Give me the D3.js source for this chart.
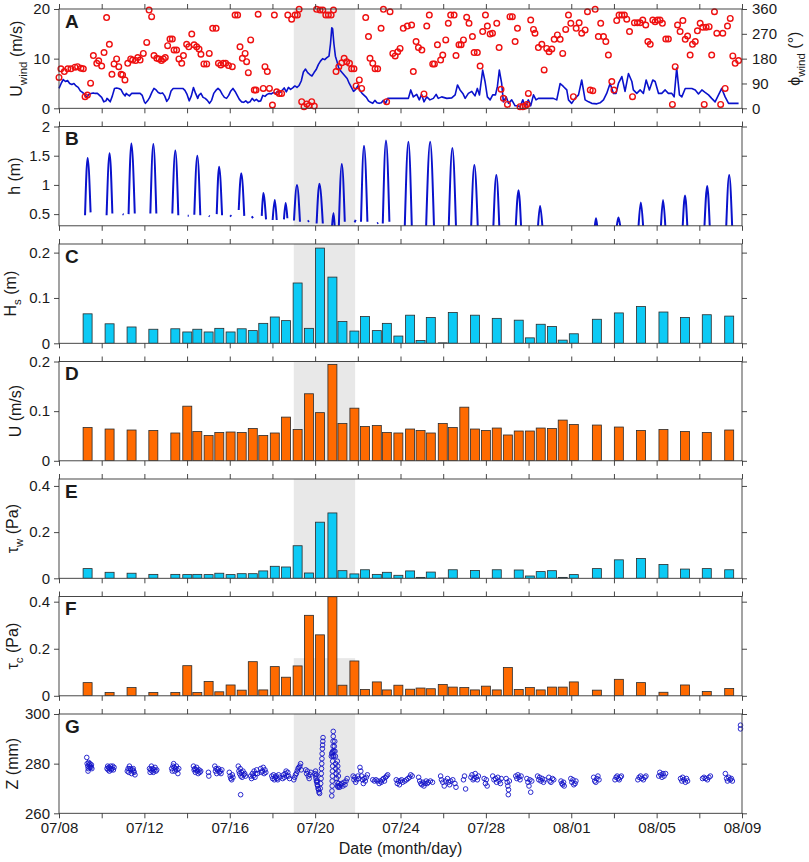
<!DOCTYPE html>
<html>
<head>
<meta charset="utf-8">
<script src="https://cdn.jsdelivr.net/npm/d3@7"></script>
<style>
  body { margin: 0; background: #fff; }
  svg text { font-family: "Liberation Sans", Arial, Helvetica, sans-serif; fill: #1a1a1a; }
</style>
</head>
<body>
<div id="chart"></div>
<script>
// ---------- data (days counted from 07/08 00:00) ----------
var xTickLabels = ["07/08", "07/12", "07/16", "07/20", "07/24", "07/28", "08/01", "08/05", "08/09"]
var stormWindow = [11, 13.875]

// A: wind speed (m/s)
var windSpeed = [
  [0,4],[0.1,5],[0.2,5.8],[0.3,5.4],[0.4,5.6],[0.5,5],[0.6,4.8],[0.7,5],[0.8,4.5],[0.9,4.2],[1.0,3.5],[1.1,3.2],
  [1.2,2.8],[1.25,2.5],[1.3,2.3],[1.4,2.8],[1.5,3],[1.6,3.1],[1.7,3],[1.8,3],[1.9,2.6],[2.0,2.2],[2.1,1.3],[2.2,1.5],
  [2.25,2],[2.3,1.8],[2.4,1.3],[2.5,2.5],[2.6,4],[2.7,4.1],[2.8,4],[2.9,3.8],[3.0,3],[3.1,2.5],[3.15,3],[3.2,2.8],
  [3.3,2.5],[3.4,3],[3.5,3],[3.6,3],[3.7,3],[3.8,3],[3.9,2.6],[4.0,1.3],[4.05,1],[4.15,1.5],[4.25,2.2],[4.35,3.2],
  [4.45,4],[4.55,3.7],[4.65,3.2],[4.75,3],[4.85,3.1],[4.95,2.5],[5.05,1.4],[5.15,2],[5.25,3.5],[5.35,4],[5.5,4],
  [5.6,4],[5.7,4],[5.8,4],[5.9,3.6],[6.0,2.8],[6.1,1.5],[6.2,2.5],[6.3,4.2],[6.4,3],[6.5,2],[6.55,2.6],[6.65,3],
  [6.75,2.2],[6.85,2],[6.95,1.6],[7.05,1],[7.15,1.6],[7.25,3],[7.35,3.6],[7.45,4],[7.55,3.6],[7.65,2.8],[7.75,2.2],
  [7.85,2],[7.95,2.6],[8.05,3.5],[8.15,4],[8.25,3.4],[8.35,2.6],[8.45,1.8],[8.55,1.3],[8.65,1.2],[8.75,1.5],[8.85,1.1],
  [8.95,1.3],[9.05,2],[9.15,1.5],[9.25,1.8],[9.35,1.4],[9.45,1.5],[9.55,2.6],[9.65,2.4],[9.75,2.8],[9.85,3],[9.95,2.9],
  [10.05,3.2],[10.15,3],[10.25,3.4],[10.35,3.2],[10.45,3.6],[10.55,4.1],[10.65,3.3],[10.75,4.2],[10.85,3.8],[10.95,4.1],
  [11.05,4.5],[11.15,4.2],[11.25,4.6],[11.35,5.5],[11.45,7.3],[11.55,7.9],[11.65,7.2],[11.75,6.8],[11.85,6.5],[11.95,7.2],
  [12.05,7.8],[12.15,8.8],[12.25,9.5],[12.35,10],[12.45,9.8],[12.55,10.2],[12.65,10.5],[12.72,13],[12.78,16.2],[12.82,16],
  [12.88,13],[12.95,10.5],[13.02,9.5],[13.1,8.2],[13.2,7.5],[13.3,7],[13.4,6.5],[13.5,6],[13.6,5],[13.7,4.2],[13.8,3.4],
  [13.9,3.8],[14.0,4.5],[14.1,3.6],[14.2,3],[14.3,2.6],[14.4,2.2],[14.5,1.5],[14.6,1.2],[14.7,1],[14.8,1.6],[14.9,1.1],
  [15.0,1],[15.1,1.1],[15.2,1.6],[15.3,1],[15.4,2],[15.5,2],[15.7,2],[15.9,2],[16.1,2],[16.37,2.0],[16.48,3.7],
  [16.60,2.3],[16.76,2.8],[16.88,1.7],[16.99,2.8],[17.10,1.3],[17.23,2.3],[17.38,1.7],[17.54,2.0],[17.67,2.8],[17.77,2.0],
  [17.93,2.3],[18.17,2.0],[18.40,2.1],[18.56,2.7],[18.67,4.7],[18.79,3.7],[18.92,3.0],[19.03,2.0],[19.18,3.0],[19.34,3.4],
  [19.49,2.5],[19.60,4.0],[19.70,2.7],[19.85,7.7],[19.96,5.4],[20.07,2.3],[20.20,1.7],[20.32,2.7],[20.45,2.7],[20.54,4.4],
  [20.63,7.7],[20.74,5.0],[20.82,1.3],[20.95,2.3],[21.06,1.0],[21.21,1.7],[21.37,0.5],[21.48,0.5],[21.60,0.3],[21.73,1.7],
  [21.84,0.3],[21.99,1.7],[22.10,0.5],[22.23,2.7],[22.35,1.7],[22.46,2.0],[22.85,2.0],[23.16,2.0],[23.32,1.7],[23.48,5.0],
  [23.63,4.4],[23.79,3.7],[23.87,1.7],[24.02,1.0],[24.18,2.0],[24.34,2.7],[24.49,5.7],[24.65,1.7],[24.81,1.3],[24.96,1.0],
  [25.20,0.9],[25.35,1.1],[25.51,1.7],[25.66,3.0],[25.82,5.0],[25.98,3.0],[26.10,3.0],[26.21,5.0],[26.37,6.4],[26.52,3.4],
  [26.68,7.0],[26.84,5.4],[26.91,3.7],[27.07,3.0],[27.23,3.7],[27.38,3.0],[27.51,5.7],[27.66,3.7],[27.82,5.7],[27.93,5.4],
  [28.09,3.0],[28.24,3.0],[28.40,3.7],[28.55,3.0],[28.71,3.0],[28.82,2.3],[28.94,8.1],[29.07,2.7],[29.18,2.3],[29.34,4.0],
  [29.49,4.0],[29.65,4.0],[29.81,3.7],[29.96,2.9],[30.12,3.7],[30.27,3.2],[30.43,2.7],[30.58,2.0],[30.74,1.3],[30.90,2.7],
  [31.05,4.0],[31.21,2.3],[31.37,1.0],[31.60,1.0],[31.84,1.0]
]

// A: wind direction (degrees)
var windDir = [
  [0.0,112],[0.09,143],[0.25,133],[0.41,143],[0.56,143],[0.75,149],[0.87,151],[1.03,145],[1.14,143],[1.22,42],[1.33,48],
  [1.48,91],[1.61,191],[1.77,163],[1.86,172],[2.00,153],[2.11,202],[2.23,329],[2.36,232],[2.48,123],[2.58,161],[2.70,179],
  [2.80,151],[2.91,123],[2.98,121],[3.09,103],[3.22,163],[3.36,179],[3.45,175],[3.59,173],[3.69,184],[3.80,175],[3.95,199],
  [4.11,239],[4.22,356],[4.34,332],[4.45,191],[4.58,181],[4.69,179],[4.80,173],[4.89,179],[4.98,184],[5.09,227],[5.20,251],
  [5.31,251],[5.39,211],[5.51,211],[5.62,179],[5.75,163],[5.83,191],[5.98,232],[6.08,223],[6.22,269],[6.33,230],[6.45,223],
  [6.56,215],[6.65,196],[6.79,161],[6.92,161],[7.04,199],[7.20,290],[7.36,290],[7.47,163],[7.58,157],[7.70,163],[7.81,163],
  [7.94,155],[8.12,151],[8.25,338],[8.37,338],[8.48,223],[8.59,181],[8.72,199],[8.79,169],[8.87,129],[8.98,248],[9.15,66],
  [9.23,66],[9.33,341],[9.57,72],[9.65,151],[9.76,133],[9.86,72],[10.00,12],[10.09,338],[10.20,60],[10.32,54],[10.43,54],
  [10.72,338],[10.90,323],[11.06,338],[11.17,338],[11.25,359],[11.37,24],[11.48,6],[11.61,16],[11.72,10],[11.84,24],
  [11.96,8],[12.07,359],[12.23,356],[12.36,356],[12.50,338],[12.62,338],[12.75,338],[12.86,356],[12.98,133],[13.11,151],
  [13.25,165],[13.36,181],[13.48,169],[13.61,163],[13.71,143],[13.82,143],[13.92,81],[14.07,103],[14.18,72],[14.37,329],
  [14.50,260],[14.57,181],[14.70,163],[14.81,143],[14.93,143],[15.09,290],[15.20,359],[15.35,24],[15.51,350],[15.64,199],
  [15.75,190],[15.87,205],[15.98,217],[16.13,290],[16.32,298],[16.52,302],[16.60,133],[16.73,242],[16.84,220],[17.0,211],
  [17.10,52],[17.23,298],[17.35,338],[17.51,161],[17.59,161],[17.73,230],[17.88,175],[17.98,193],[18.12,248],[18.24,308],
  [18.35,338],[18.51,338],[18.60,191],[18.74,230],[18.84,230],[18.95,248],[19.10,330],[19.21,308],[19.37,260],[19.45,202],
  [19.60,202],[19.73,153],[19.85,278],[19.98,338],[20.07,298],[20.20,269],[20.31,272],[20.51,308],[20.62,220],[20.71,69],
  [20.82,36],[21.01,14],[21.13,332],[21.24,332],[21.37,242],[21.48,290],[21.60,6],[21.73,6],[21.84,8],[21.92,14],[21.99,54],
  [22.10,320],[22.23,286],[22.30,272],[22.46,220],[22.62,232],[22.73,139],[22.85,217],[22.96,205],[23.09,215],[23.20,250],
  [23.35,266],[23.48,250],[23.60,199],[23.74,286],[23.87,338],[23.98,308],[24.10,42],[24.23,290],[24.37,310],[24.49,272],
  [24.65,284],[24.76,350],[24.89,66],[25.01,64],[25.12,359],[25.27,260],[25.38,308],[25.51,260],[25.62,242],[25.74,193],
  [25.90,97],[26.0,66],[26.13,318],[26.24,338],[26.37,338],[26.49,338],[26.60,323],[26.73,278],[26.87,42],[26.96,310],
  [27.10,310],[27.23,310],[27.35,320],[27.49,302],[27.59,242],[27.70,232],[27.82,320],[27.93,314],[28.04,320],[28.16,320],
  [28.27,308],[28.43,251],[28.55,251],[28.74,14],[28.87,151],[28.98,302],[29.10,278],[29.23,318],[29.34,250],[29.45,262],
  [29.57,193],[29.68,232],[29.81,242],[29.91,281],[30.04,308],[30.16,294],[30.23,14],[30.32,294],[30.46,296],[30.58,193],
  [30.71,350],[30.82,272],[31.0,14],[31.1,272],[31.21,72],[31.32,298],[31.45,326],[31.57,190],[31.68,163],[31.84,173]
]

// B: water depth h (m), one arch per flood tide: [tStart, hStart, tPeak, hPeak, tEnd, hEnd]
var tideArches = [
  [1.22,0.48,1.34,1.46,1.48,0.53],[2.23,0.48,2.37,1.54,2.50,0.51],[3.26,0.50,3.39,1.71,3.55,0.51],
  [4.28,0.51,4.42,1.70,4.56,0.51],[5.31,0.51,5.45,1.59,5.59,0.48],[6.34,0.49,6.48,1.50,6.62,0.48],
  [7.39,0.50,7.50,1.31,7.64,0.48],[8.42,0.57,8.54,1.20,8.68,0.47],[9.50,0.47,9.57,0.86,9.70,0.41],
  [10.01,0.40,10.11,0.74,10.20,0.40],[10.54,0.41,10.62,0.69,10.70,0.43],[11.01,0.39,11.15,1.00,11.29,0.37],
  [12.07,0.34,12.20,1.02,12.36,0.34],[12.79,0.28,12.86,0.52,12.92,0.28],[13.11,0.28,13.25,1.36,13.39,0.37],
  [14.15,0.37,14.29,1.67,14.45,0.37],[15.17,0.34,15.32,1.76,15.48,0.37],[16.20,0.28,16.37,1.74,16.53,0.28],
  [17.20,0.28,17.39,1.74,17.57,0.28],[18.26,0.28,18.43,1.63,18.60,0.28],[19.31,0.28,19.46,1.34,19.62,0.28],
  [20.35,0.28,20.49,1.17,20.63,0.28],[21.40,0.28,21.53,0.91,21.65,0.28],[22.44,0.28,22.54,0.64,22.65,0.28],
  [25.10,0.28,25.16,0.43,25.22,0.28],[26.13,0.28,26.21,0.44,26.30,0.28],[27.15,0.28,27.26,0.70,27.37,0.28],
  [28.20,0.28,28.30,0.74,28.41,0.28],[29.22,0.28,29.33,0.82,29.44,0.28],[30.24,0.28,30.37,0.98,30.49,0.28],
  [31.26,0.28,31.40,1.17,31.54,0.28]
]
// B: short pieces of shallow water between floods [tStart, hStart, tEnd, hEnd]
var tideDashes = [
  [2.98,0.50,3.03,0.49],[6.03,0.47,6.08,0.47],[7.02,0.47,7.06,0.46],[8.02,0.48,8.07,0.46],[9.03,0.46,9.09,0.43],
  [11.66,0.37,11.71,0.39],[13.85,0.36,13.90,0.40],[14.90,0.34,14.96,0.35]
]

// C-F: tidal-cycle mean values
var barDays = [1.34,2.37,3.40,4.42,5.45,6.01,6.48,7.01,7.51,8.04,8.56,9.08,9.57,10.11,10.64,11.18,11.71,12.23,12.81,13.28,
  13.84,14.34,14.89,15.36,15.90,16.45,16.94,17.42,17.98,18.45,18.99,19.49,20.00,20.51,21.03,21.54,22.06,22.57,23.10,23.60,
  24.12,25.20,26.23,27.27,28.32,29.33,30.35,31.40]
var hsVals = [0.065,0.043,0.036,0.031,0.032,0.025,0.031,0.025,0.033,0.025,0.032,0.028,0.044,0.058,0.050,0.133,0.033,0.210,
  0.146,0.048,0.027,0.059,0.028,0.044,0.016,0.062,0.006,0.057,0.001,0.068,null,0.062,null,0.055,null,0.051,0.012,0.042,
  0.037,0.007,0.021,0.053,0.067,0.081,0.069,0.057,0.063,0.060]
var uVals = [0.067,0.064,0.062,0.061,0.056,0.110,0.059,0.051,0.057,0.058,0.057,0.065,0.051,0.056,0.088,0.063,0.135,0.097,
  0.194,0.075,0.106,0.069,0.071,0.057,0.056,0.064,0.061,0.056,0.075,0.067,0.108,0.064,0.061,0.066,0.052,0.060,0.060,0.066,
  0.065,0.082,0.073,0.072,0.068,0.061,0.063,0.059,0.057,0.062]
var tauWVals = [0.042,0.026,0.022,0.017,0.017,0.016,0.017,0.016,0.022,0.016,0.020,0.020,0.032,0.052,0.049,0.141,0.023,0.243,
  0.283,0.033,0.019,0.037,0.017,0.026,0.013,0.032,0.004,0.027,0.001,0.037,null,0.034,null,0.037,null,0.036,0.010,0.029,
  0.033,0.004,0.016,0.042,0.080,0.086,0.060,0.040,0.042,0.037]
var tauCVals = [0.056,0.014,0.035,0.014,0.014,0.128,0.014,0.061,0.017,0.046,0.024,0.145,0.025,0.124,0.079,0.127,0.342,0.259,
  0.421,0.045,0.148,0.027,0.059,0.025,0.045,0.028,0.033,0.030,0.048,0.037,0.035,0.025,0.041,0.025,0.120,0.027,0.035,0.025,
  0.037,0.037,0.059,0.024,0.070,0.056,0.015,0.046,0.018,0.031]

// G: bed level Z (mm)
var bedLevel = [
  [1.30,282.5],[1.32,280],[1.35,279],[1.37,278],[1.39,280.5],[1.41,279.5],[1.43,278.5],[1.45,280],[1.47,279],[1.50,278.5],[1.52,279.5],[1.54,278],[1.36,277],
  [2.25,278],[2.28,279],[2.30,277.5],[2.33,278.5],[2.36,277],[2.39,278],[2.42,279],[2.45,277.5],[2.48,278],[2.52,279],[2.55,277.5],[2.58,278.5],
  [3.20,277],[3.24,278],[3.27,276.5],[3.30,279],[3.33,278],[3.36,277.5],[3.40,276],[3.44,277.5],[3.48,278],[3.52,276.5],[3.56,275.5],[3.50,277],
  [4.24,278],[4.27,276.5],[4.30,277.5],[4.33,279],[4.36,277],[4.39,278],[4.42,276.5],[4.46,277.5],[4.50,278.5],[4.54,277],[4.58,277.5],
  [5.28,278],[5.31,277],[5.34,279],[5.37,280],[5.40,278.5],[5.43,277],[5.46,278],[5.50,279],[5.53,277.5],[5.57,276],[5.61,278],
  [6.30,279],[6.33,277.5],[6.36,278],[6.39,276.5],[6.42,277.5],[6.45,278.5],[6.49,277],[6.52,276],[6.56,277.5],[6.60,276.5],[6.64,277],
  [7.00,276.5],[7.02,275],
  [7.30,279],[7.33,277],[7.36,278],[7.39,276],[7.43,277.5],[7.47,278],[7.51,276.5],[7.55,277],[7.59,276],[7.63,277.5],
  [7.98,276.5],[8.02,275],[8.05,274],[8.09,273.5],[8.12,275.5],[8.15,274.5],
  [8.40,279],[8.43,277],[8.46,276],[8.49,278],[8.52,275],[8.55,276.5],[8.58,274.5],[8.62,277],[8.66,275.5],[8.70,276],[8.74,275],[8.51,267.5],
  [8.98,275],[9.02,274],[9.06,276],[9.10,275],[9.14,277],[9.18,274.5],[9.22,276],[9.26,277.5],[9.30,276],
  [9.45,278],[9.49,276.5],[9.53,277],[9.57,278.5],[9.61,276],[9.65,277.5],[9.69,276.5],
  [9.97,275],[10.01,274],[10.05,275.5],[10.09,273.5],[10.13,274.5],[10.17,275],[10.21,274],[10.25,273.5],[10.29,275.5],[10.33,274.5],
  [10.48,274],[10.52,275.5],[10.56,274.5],[10.60,276],[10.64,277],[10.68,275],[10.72,276.5],[10.76,275],[10.80,274],
  [11.00,273.5],[11.04,274.5],[11.08,275.5],[11.12,276],[11.16,277],[11.20,278],[11.24,278.5],[11.28,279],[11.32,280],[11.35,277.5],
  [11.56,277.5],[11.60,276],[11.64,277],[11.68,275],[11.72,274],[11.76,275.5],[11.80,276.5],
  [12.00,276],[12.02,275],[12.04,274],[12.06,273],[12.08,272.5],[12.10,271.5],[12.12,271],[12.14,270],[12.16,269.5],[12.18,268.5],
  [12.21,268],[12.24,270],[12.26,272],[12.28,274],[12.29,276],[12.30,278],[12.31,280],[12.32,282],[12.33,284],[12.34,286],
  [12.35,287.5],[12.36,289],[12.37,290.5],[12.02,277],[12.06,275.5],[12.10,273],
  [12.78,267],[12.79,269],[12.80,271],[12.80,273],[12.81,275],[12.81,277],[12.82,279],[12.82,281],[12.83,283],[12.83,285],
  [12.84,287],[12.84,289],[12.85,291],[12.85,293],[12.76,283],[12.78,284],[12.80,284.5],[12.87,283],[12.88,285],[12.90,287],
  [12.92,289],[12.93,285],[12.95,283],[12.96,280],[12.97,278],[12.99,276],[13.01,274],[13.03,272.5],[13.05,271],[13.08,270.5],
  [13.10,272],[13.12,271],[13.04,281],[13.06,279],[13.07,277],[13.09,275],
  [13.15,270.5],[13.20,271.5],[13.25,272],[13.30,271],[13.35,272.5],[13.40,271.5],[13.45,273],[13.50,274],
  [13.78,275],[13.82,273.5],[13.86,274.5],[13.90,272.5],[13.95,273.5],[14.00,275],
  [14.05,274],[14.10,278.5],[14.14,277],[14.18,275],[14.22,273.5],[14.26,272],[14.30,274],[14.35,273],[14.40,274.5],[14.45,275.5],
  [14.70,273.5],[14.78,273],[14.85,273.5],[14.92,273],[15.00,272],[15.05,273],[15.10,272.5],[15.15,273.5],[15.20,274],[15.25,273],
  [15.30,274.5],[15.35,275],[15.40,275.5],
  [15.80,273.5],[15.85,272],[15.90,273],[15.95,271.5],[16.00,273],[16.05,273.5],[16.10,272.5],[16.20,273],[16.28,273.5],
  [16.35,274],[16.42,274.5],[16.48,275.5],[16.55,275],
  [16.85,274.5],[16.90,273],[16.95,272],[17.00,271.5],[17.05,272.5],[17.10,271],[17.15,272],[17.20,273],[17.25,272],[17.30,272.5],[17.40,273],[17.50,272.5],
  [17.88,275],[17.92,273.5],[17.98,272.5],[18.05,271],[18.12,273],[18.20,274],[18.25,272.5],[18.30,271.5],[18.35,273],[18.45,273.5],[18.55,272],[18.60,270.5],
  [18.95,273.5],[19.00,275],[19.05,269.8],
  [19.30,274.5],[19.35,275.5],[19.40,273.5],[19.45,274],[19.50,276],[19.55,274.5],[19.60,273.5],[19.65,275],
  [19.92,274],[19.98,272],[20.02,273.5],[20.06,271],
  [20.32,275],[20.38,273.5],[20.45,274],[20.50,272.5],[20.56,274.5],[20.62,273],[20.68,272],[20.72,274],
  [20.95,274],[21.00,272.5],[21.03,271],[21.06,269.5],[21.10,273],[21.05,267.5],
  [21.40,275],[21.45,274],[21.50,275.5],[21.55,274.5],[21.60,273.5],[21.65,275],
  [21.92,274],[21.97,272.5],[22.02,271],[22.06,273.5],[22.10,268.5],[22.15,273],
  [22.42,275],[22.48,273.5],[22.52,274.5],[22.58,273],[22.64,274],[22.70,272.5],[22.75,273.5],
  [22.95,274.5],[23.00,273],[23.05,272.5],[23.12,274],[23.18,273.5],
  [23.52,273],[23.56,272],[23.60,271.5],[23.64,272.5],[23.67,271],
  [23.98,274],[24.03,272.5],[24.08,273.5],[24.12,271.5],[24.18,272],[24.22,273],
  [25.05,274.5],[25.10,273],[25.15,272.5],[25.20,274],[25.25,275],[25.30,273.5],
  [26.05,273.5],[26.10,274.5],[26.15,275],[26.20,274],[26.25,273.5],[26.30,274.5],[26.35,275],
  [27.12,273.5],[27.18,274.5],[27.25,275],[27.30,274],[27.38,273.5],[27.45,274.5],[27.50,275],
  [28.10,275],[28.15,276.5],[28.20,275.5],[28.25,274.5],[28.30,276],[28.35,275],[28.42,276],
  [29.12,274],[29.18,273],[29.22,274.5],[29.28,273.5],[29.35,272.5],[29.40,274],[29.45,273],
  [30.15,274],[30.22,274.5],[30.30,274],[30.38,273.5],[30.45,274.5],[30.52,275],
  [31.22,276],[31.28,274],[31.32,273],[31.38,274.5],[31.45,273.5],[31.50,274],[31.55,273],
  [31.93,295.5],[31.93,294]
]

// ---------- layout ----------
var W = 809, H = 862
var plotLeft = 59, plotRight = 742
var firstTop = 9, panelStep = 117.5, panelH = 99.3
var axisColor = "#333"

var x = d3.scaleLinear().domain([0, 32]).range([plotLeft, plotRight])
var xTickDays = d3.range(0, 33, 2)

var svg = d3.select("#chart").append("svg")
  .attr("width", W)
  .attr("height", H)

// panel settings
var panelDefs = [
  { id: "A", domain: [0, 20], ticks: [0, 10, 20], label: ["U", "wind", " (m/s)"], labelX: 22 },
  { id: "B", domain: [0.3, 2], ticks: [0.5, 1, 1.5, 2], label: ["h", "", " (m)"], labelX: 20 },
  { id: "C", domain: [0, 0.219], ticks: [0, 0.1, 0.2], label: ["H", "s", " (m)"], labelX: 16 },
  { id: "D", domain: [0, 0.2], ticks: [0, 0.1, 0.2], label: ["U", "", " (m/s)"], labelX: 21 },
  { id: "E", domain: [0, 0.43], ticks: [0, 0.2, 0.4], label: ["\u03c4", "w", " (Pa)"], labelX: 18 },
  { id: "F", domain: [0, 0.422], ticks: [0, 0.2, 0.4], label: ["\u03c4", "c", " (Pa)"], labelX: 18, shadeTop: 0.16 },
  { id: "G", domain: [260, 300], ticks: [260, 280, 300], label: ["Z", "", " (mm)"], labelX: 18 }
]

function addLabel(g, parts, px, py) {
  var t = g.append("text")
    .attr("transform", `translate(${px},${py}) rotate(-90)`)
    .attr("text-anchor", "middle")
    .style("font-size", "16px")
  t.append("tspan").text(parts[0])
  if (parts[1]) {
    t.append("tspan").text(parts[1]).attr("dy", 4.5).style("font-size", "11.5px")
    t.append("tspan").text(parts[2]).attr("dy", -4.5)
  } else {
    t.append("tspan").text(parts[2])
  }
  return t
}

function styleAxis(sel) {
  sel.select(".domain").remove()
  sel.selectAll(".tick line").attr("stroke", axisColor).attr("stroke-width", 0.9)
  sel.selectAll(".tick text").style("font-size", "15px").attr("fill", "#1a1a1a")
}

function makePanel(i) {
  var def = panelDefs[i]
  var top = firstTop + i * panelStep
  var bottom = top + panelH
  var y = d3.scaleLinear().domain(def.domain).range([bottom, top])
  var g = svg.append("g").attr("class", "panel-" + def.id)

  // storm shading
  var shadeTop = def.shadeTop != null ? y(def.shadeTop) : top
  g.append("rect")
    .attr("x", x(stormWindow[0]))
    .attr("width", x(stormWindow[1]) - x(stormWindow[0]))
    .attr("y", shadeTop)
    .attr("height", bottom - shadeTop)
    .attr("fill", "#e8e8e8")

  g.append("clipPath").attr("id", "clip" + def.id)
    .append("rect")
    .attr("x", plotLeft).attr("y", top)
    .attr("width", plotRight - plotLeft).attr("height", panelH)

  var data = g.append("g")
  var axes = g.append("g")

  axes.append("g")
    .attr("transform", `translate(${plotLeft},0)`)
    .call(d3.axisLeft(y).tickValues(def.ticks).tickSize(5).tickPadding(4).tickFormat(d3.format("~g")))
    .call(styleAxis)

  if (def.id !== "A") {
    axes.append("g")
      .attr("transform", `translate(${plotRight},0)`)
      .call(d3.axisRight(y).tickValues(def.ticks).tickSize(5).tickFormat(""))
      .call(styleAxis)
  }

  axes.append("g")
    .attr("transform", `translate(0,${top})`)
    .call(d3.axisTop(x).tickValues(xTickDays).tickSize(5).tickFormat(""))
    .call(styleAxis)

  axes.append("g")
    .attr("transform", `translate(0,${bottom})`)
    .call(d3.axisBottom(x).tickValues(xTickDays).tickSize(5).tickPadding(4)
      .tickFormat(d => (def.id === "G" && d % 4 === 0) ? xTickLabels[d / 4] : ""))
    .call(styleAxis)

  axes.append("rect")
    .attr("x", plotLeft).attr("y", top)
    .attr("width", plotRight - plotLeft).attr("height", panelH)
    .attr("fill", "none")
    .attr("stroke", axisColor)
    .attr("stroke-width", 0.9)

  axes.append("text")
    .attr("x", 65)
    .attr("y", top + 18.5)
    .style("font-size", "19px")
    .style("font-weight", "bold")
    .attr("fill", "#000")
    .text(def.id)

  addLabel(axes, def.label, def.labelX, (top + bottom) / 2)

  return { g: g, data: data, axes: axes, y: y, top: top, bottom: bottom, def: def }
}

var panels = panelDefs.map((d, i) => makePanel(i))

// ---------- A: wind ----------
var pA = panels[0]
var yDir = d3.scaleLinear().domain([0, 360]).range([pA.bottom, pA.top])

pA.axes.append("g")
  .attr("transform", `translate(${plotRight},0)`)
  .call(d3.axisRight(yDir).tickValues([0, 90, 180, 270, 360]).tickSize(5).tickPadding(5))
  .call(styleAxis)

var dirLabel = pA.axes.append("text")
  .attr("transform", `translate(800,${(pA.top + pA.bottom) / 2}) rotate(-90)`)
  .attr("text-anchor", "middle")
  .style("font-size", "16px")
dirLabel.append("tspan").text("\u03d5")
dirLabel.append("tspan").text("wind").attr("dy", 4.5).style("font-size", "11.5px")
dirLabel.append("tspan").text(" (\u00b0)").attr("dy", -4.5)

var windLine = d3.line()
  .x(d => x(d[0]))
  .y(d => pA.y(d[1]))

pA.data.append("path")
  .attr("d", windLine(windSpeed))
  .attr("fill", "none")
  .attr("stroke", "#0a12cc")
  .attr("stroke-width", 1.6)
  .attr("stroke-linejoin", "round")

pA.data.selectAll(".dir")
  .data(windDir)
  .enter()
  .append("circle")
  .attr("class", "dir")
  .attr("cx", d => x(d[0]))
  .attr("cy", d => yDir(d[1]))
  .attr("r", 2.8)
  .attr("fill", "none")
  .attr("stroke", "#ee1010")
  .attr("stroke-width", 1.4)

// ---------- B: water depth ----------
var pB = panels[1]
var tideLine = d3.line()
  .x(d => x(d[0]))
  .y(d => pB.y(d[1]))
  .curve(d3.curveMonotoneX)

var tideLayer = pB.data.append("g").attr("clip-path", "url(#clipB)")
tideLayer.selectAll(".arch")
  .data(tideArches)
  .enter()
  .append("path")
  .attr("d", a => tideLine([[a[0], a[1]], [a[2], a[3]], [a[4], a[5]]]))
  .attr("fill", "none")
  .attr("stroke", "#0a12cc")
  .attr("stroke-width", 2)

tideLayer.selectAll(".dash")
  .data(tideDashes)
  .enter()
  .append("path")
  .attr("d", a => d3.line()([[x(a[0]), pB.y(a[1])], [x(a[2]), pB.y(a[3])]]))
  .attr("fill", "none")
  .attr("stroke", "#0a12cc")
  .attr("stroke-width", 2)

// ---------- C-F: bars ----------
function drawBars(p, vals, color) {
  var rows = barDays.map((t, i) => ({ t: t, v: vals[i] })).filter(d => d.v != null)
  p.data.append("g").attr("clip-path", "url(#clip" + p.def.id + ")")
    .selectAll("rect")
    .data(rows)
    .enter()
    .append("rect")
    .attr("x", d => x(d.t) - 4.5)
    .attr("width", 9)
    .attr("y", d => p.y(d.v))
    .attr("height", d => p.y(0) - p.y(d.v))
    .attr("fill", color)
    .attr("stroke", "#2b2b2b")
    .attr("stroke-width", 0.8)
}
drawBars(panels[2], hsVals, "#0ccaf5")
drawBars(panels[3], uVals, "#ff6a00")
drawBars(panels[4], tauWVals, "#0ccaf5")
drawBars(panels[5], tauCVals, "#ff6a00")

// ---------- G: bed level ----------
var pG = panels[6]
pG.data.selectAll("circle")
  .data(bedLevel)
  .enter()
  .append("circle")
  .attr("cx", d => x(d[0]))
  .attr("cy", d => pG.y(d[1]))
  .attr("r", 2.3)
  .attr("fill", "none")
  .attr("stroke", "#1414c8")
  .attr("stroke-width", 0.9)

svg.append("text")
  .attr("x", (plotLeft + plotRight) / 2)
  .attr("y", 854)
  .attr("text-anchor", "middle")
  .style("font-size", "16px")
  .text("Date (month/day)")
</script>
</body>
</html>
